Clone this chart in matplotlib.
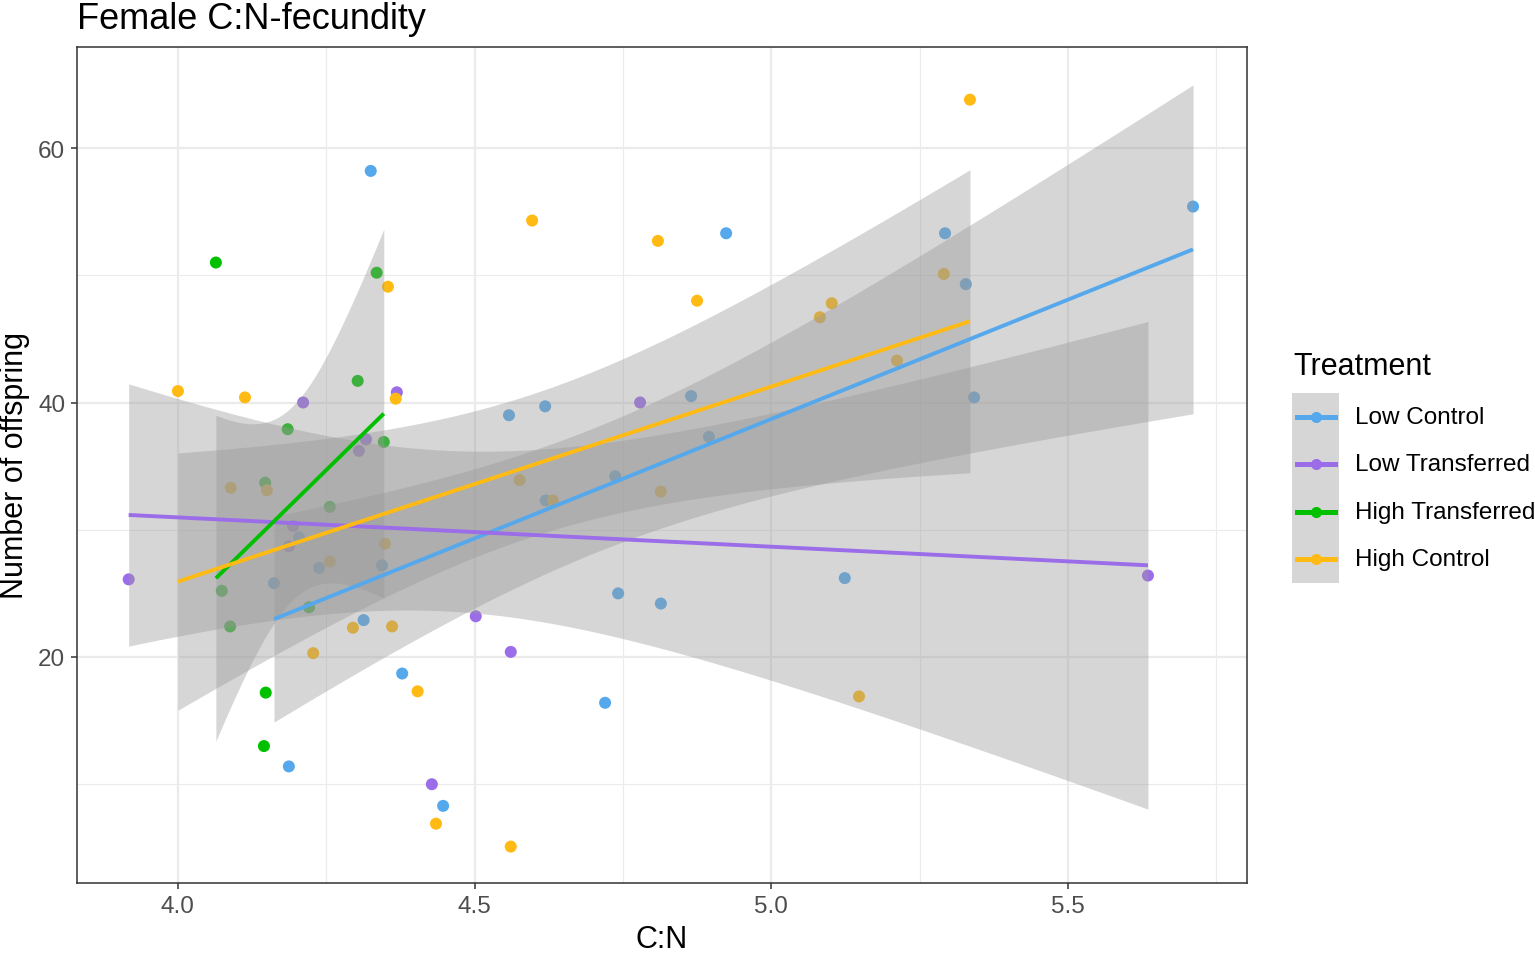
import numpy as np
import matplotlib.pyplot as plt
from matplotlib.lines import Line2D
from matplotlib.patches import Rectangle

plt.rcParams['font.family'] = ['Liberation Sans', 'DejaVu Sans']

# ==============================
# Data
# ==============================
treatments = ["Low Control", "Low Transferred", "High Transferred", "High Control"]
colors = ["#56A8EC", "#9B6DE8", "#00C000", "#FFBA14"]

low_control_cn = [4.325, 4.924, 5.711, 5.293, 5.328, 5.342, 4.865, 4.558, 4.619, 4.895,
                  4.737, 4.620, 5.124, 4.742, 4.814, 4.162, 4.238, 4.344, 4.313, 4.187,
                  4.378, 4.447, 4.720, 4.204]
low_control_off = [58.2, 53.3, 55.4, 53.3, 49.3, 40.4, 40.5, 39.0, 39.7, 37.3,
                   34.2, 32.3, 26.2, 25.0, 24.2, 25.8, 27.0, 27.2, 22.9, 11.4,
                   18.7, 8.3, 16.4, 29.4]

low_transf_cn = [3.917, 4.211, 4.369, 4.779, 4.317, 4.305, 4.502, 4.561, 4.428, 5.635,
                 4.194, 4.187]
low_transf_off = [26.1, 40.0, 40.8, 40.0, 37.1, 36.2, 23.2, 20.4, 10.0, 26.4,
                  30.3, 28.7]

high_transf_cn = [4.064, 4.335, 4.303, 4.185, 4.347, 4.256, 4.147, 4.074, 4.088, 4.221,
                  4.148, 4.145]
high_transf_off = [51.0, 50.2, 41.7, 37.9, 36.9, 31.8, 33.7, 25.2, 22.4, 23.9,
                   17.2, 13.0]

high_control_cn = [5.335, 4.597, 4.809, 4.875, 4.354, 4.000, 4.113, 4.367, 5.291, 5.102,
                   5.082, 5.212, 4.576, 4.632, 4.814, 4.089, 4.150, 4.349, 4.256, 4.295,
                   4.361, 4.228, 4.404, 4.435, 4.561, 5.148]
high_control_off = [63.8, 54.3, 52.7, 48.0, 49.1, 40.9, 40.4, 40.3, 50.1, 47.8,
                    46.7, 43.3, 33.9, 32.3, 33.0, 33.3, 33.1, 28.9, 27.5, 22.3,
                    22.4, 20.3, 17.3, 6.9, 5.1, 16.9]

groups = [
    (low_control_cn, low_control_off),
    (low_transf_cn, low_transf_off),
    (high_transf_cn, high_transf_off),
    (high_control_cn, high_control_off),
]


def t975(df):
    # Cornish-Fisher expansion of the t quantile
    z = 1.959964
    return (z + (z**3 + z) / (4 * df) + (5 * z**5 + 16 * z**3 + 3 * z) / (96 * df**2)
            + (3 * z**7 + 19 * z**5 + 17 * z**3 - 15 * z) / (384 * df**3))


def lm_band(x, y, n_out=80):
    x = np.asarray(x)
    y = np.asarray(y)
    n = len(x)
    slope, intercept = np.polyfit(x, y, 1)
    resid = y - (slope * x + intercept)
    s = np.sqrt(np.sum(resid**2) / (n - 2))
    xs = np.linspace(x.min(), x.max(), n_out)
    fit = slope * xs + intercept
    se = s * np.sqrt(1 / n + (xs - x.mean())**2 / np.sum((x - x.mean())**2))
    t = t975(n - 2)
    return xs, fit, fit - t * se, fit + t * se


# ==============================
# Plot
# ==============================
fig = plt.figure(figsize=(15.35, 9.54), dpi=100)
ax = fig.add_axes([0.0502, 0.0734, 0.7622, 0.8763])

for (cn, off), col in zip(groups, colors):
    ax.scatter(cn, off, s=75, color=col, edgecolors="none", zorder=2)

for (cn, off), col in zip(groups, colors):
    xs, fit, lo, hi = lm_band(cn, off)
    ax.fill_between(xs, lo, hi, color="#999999", alpha=0.4, linewidth=0, zorder=3)
    ax.plot(xs, fit, color=col, linewidth=2.8, zorder=4, solid_capstyle="butt")

ax.set_xlim(3.830, 5.802)
ax.set_ylim(2.24, 67.94)
ax.set_xticks([4.0, 4.5, 5.0, 5.5])
ax.set_xticklabels(["4.0", "4.5", "5.0", "5.5"])
ax.set_yticks([20, 40, 60])
ax.set_xticks([4.25, 4.75, 5.25, 5.75], minor=True)
ax.set_yticks([10, 30, 50], minor=True)
ax.grid(which="major", color="#EBEBEB", linewidth=1.6, zorder=0)
ax.grid(which="minor", color="#EBEBEB", linewidth=0.8, zorder=0)
ax.set_axisbelow(True)
ax.tick_params(which="major", length=4.5, width=1.1, color="#333333",
               labelsize=17.5, labelcolor="#4D4D4D", pad=4)
ax.tick_params(which="minor", length=0)
for sp in ax.spines.values():
    sp.set_color("#333333")
    sp.set_linewidth(1.1)

ax.set_xlabel("C:N", fontsize=22, labelpad=5)
ax.set_ylabel("Number of offspring", fontsize=22, labelpad=6)
fig.text(0.0502, 1 - 29 / 954, "Female C:N-fecundity", fontsize=26, ha="left", va="baseline")

# legend drawn by hand so the key column has the grey ribbon fill
fig.text(1293 / 1535, 1 - 367 / 954, "Treatment", fontsize=22, ha="left", va="center")
fig.add_artist(Rectangle((1292 / 1535, 1 - 584 / 954), 47 / 1535, 190 / 954,
                         transform=fig.transFigure, facecolor="#D6D6D6",
                         edgecolor="none"))
key_y = [418, 465, 513, 560]
for ky, lab, col in zip(key_y, treatments, colors):
    yf = 1 - ky / 954
    fig.add_artist(Line2D([1297 / 1535, 1335 / 1535], [yf, yf], color=col,
                          linewidth=3.6, transform=fig.transFigure))
    fig.add_artist(Line2D([1316 / 1535], [yf], marker="o", markersize=8,
                          color=col, markeredgewidth=0, transform=fig.transFigure))
    fig.text(1355 / 1535, yf, lab, fontsize=17.5, ha="left", va="center")

fig.savefig("out.png", dpi=100)
